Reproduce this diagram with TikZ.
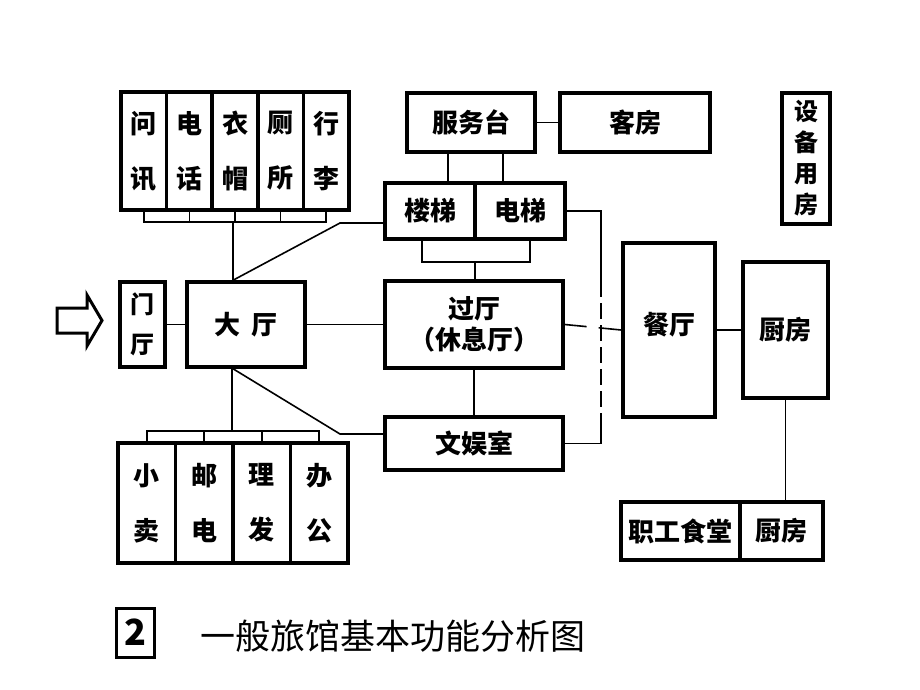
\documentclass[tikz,border=0pt]{standalone}
\usepackage{fontspec}
\newfontfamily\cjk{Noto Sans CJK SC}
\usetikzlibrary{calc}
\begin{document}
\begin{tikzpicture}[x=1pt,y=-1pt,
  box/.style={draw, line width=3.5pt, inner sep=0pt, align=center, font=\cjk\bfseries\fontsize{26}{30}\selectfont},
  vcell/.style={box, font=\cjk\bfseries\fontsize{26}{55}\selectfont},
  conn/.style={line width=1.6pt},
  gapline/.style={conn, dash pattern=on 22pt off 12pt on 40pt}]
\useasboundingbox (0,0) rectangle (920,690);

% top-left group
\foreach \i/\t in {0/问\\讯,1/电\\话,2/衣\\帽,3/厕\\所,4/行\\李}{
  \node[vcell, minimum width=45.6pt, minimum height=118pt] (t\i) at ({121+45.6*(\i+0.5)},151) {\t};
}
% bottom-left group
\foreach \i/\t in {0/小\\卖,1/邮\\电,2/理\\发,3/办\\公}{
  \node[vcell, minimum width=57.5pt, minimum height=120pt] (b\i) at ({118+57.5*(\i+0.5)},503) {\t};
}

\node[box, minimum width=128pt, minimum height=59pt] (fwt) at (471,122.5) {服务台};
\node[box, minimum width=150pt, minimum height=59pt] (kf) at (635,122.5) {客房};
\node[box, font=\cjk\bfseries\fontsize{24}{31}\selectfont, minimum width=48pt, minimum height=131pt] (sb) at (806,158.5) {设\\备\\用\\房};
\node[box, minimum width=90pt, minimum height=56pt] (lt) at (430,211) {楼梯};
\node[box, minimum width=90pt, minimum height=56pt] (dt) at (520,211) {电梯};
\node[box, font=\cjk\bfseries\fontsize{24}{40}\selectfont, minimum width=45pt, minimum height=85pt] (mt) at (142.5,324.5) {门\\厅};
\node[box, minimum width=118pt, minimum height=85pt] (dat) at (246,324.5) {大\hspace{12pt}厅};
\node[box, font=\cjk\bfseries\fontsize{26}{31}\selectfont, minimum width=178pt, minimum height=87pt] (gt) at (474,324.5) {过厅\\（休息厅）};
\node[box, minimum width=178pt, minimum height=53pt] (wy) at (474,443.5) {文娱室};
\node[box, minimum width=92pt, minimum height=174pt, text depth=14pt] (ct) at (669,330) {餐厅};
\node[box, minimum width=85pt, minimum height=136pt] (cf) at (785.5,330) {厨房};
\node[box, minimum width=119pt, minimum height=58pt] (zg) at (680.5,531) {职工食堂};
\node[box, minimum width=83pt, minimum height=58pt] (cf2) at (781.5,531) {厨房};

% entrance arrow
\draw[line width=3pt, line join=miter] (57,308) -- (87,308) -- (87,295) -- (102,320.5) -- (87,346) -- (87,333) -- (57,333) -- cycle;

% connectors
\draw[conn] (t0.south) -- ++(0,10) -| (t4.south);
\foreach \i in {1,2,3}{\draw[conn] (t\i.south) -- ++(0,10);}
\draw[conn] (t2.south) ++(-2,10) coordinate (tb) -- (tb |- dat.north);

\draw[conn] (b0.north) -- ++(0,-10) coordinate (bk) -| (b3.north);
\foreach \i in {1,2}{\draw[conn] (b\i.north) -- ++(0,-10);}
\draw[conn] (dat.south) ++(-14,0) coordinate (db) -- (db |- bk);

\draw[conn] (fwt.east) -- (kf.west);
\draw[conn] (fwt.south) ++(-23,0) coordinate (f1) -- (f1 |- lt.north);
\draw[conn] (fwt.south) ++(32,0) coordinate (f2) -- (f2 |- dt.north);

\draw[conn] (lt.south) ++(-8,0) coordinate (l1) -- ++(0,21) -| ($(dt.south)+(10,0)$);
\draw[conn] (lt.south) ++(45,21) coordinate (l2) -- (l2 |- gt.north);

\draw[conn] (mt.east) -- (dat.west);
\draw[conn] (dat.east) -- (gt.west);
\draw[conn] (gt.south) -- (wy.north);

\draw[conn] (dat.north) ++(-13,0) coordinate (dn) -- (340,223) coordinate (bt) -- (bt -| lt.west);
\draw[conn] (dat.south) ++(-13,0) coordinate (ds) -- (340,434) coordinate (bb) -- (bb -| wy.west);

\coordinate (vt) at (601,211);
\draw[conn] (dt.east) -- (vt) -- ++(0,70) coordinate (d1);
\draw[conn, dash pattern=on 16pt off 6pt] (d1) -- ++(0,135) coordinate (d2);
\draw[conn] (d2) -- (d2 |- wy.east) -- (wy.east);

\draw[gapline] (gt.east) -- (ct.west);
\draw[conn] (ct.east) -- (cf.west);
\draw[conn] (cf.south) -- (cf.south |- cf2.north);

% caption
\node[draw, line width=3pt, minimum width=38pt, minimum height=49pt, inner sep=0pt, font=\cjk\bfseries\fontsize{36}{36}\selectfont] (num) at (135,632.5) {2};
\node[anchor=west, inner sep=0pt, font=\cjk\fontsize{35}{35}\selectfont] (cap) at (200,636) {一般旅馆基本功能分析图};
\end{tikzpicture}
\end{document}
